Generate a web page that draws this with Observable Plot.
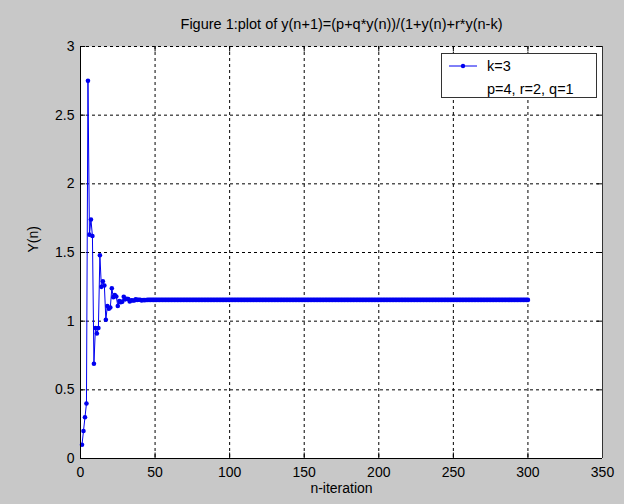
<!DOCTYPE html>
<html><head><meta charset="utf-8">
<script src="https://cdn.jsdelivr.net/npm/d3@7"></script>
<script src="https://cdn.jsdelivr.net/npm/@observablehq/plot@0.6"></script>
<style>body{margin:0;background:#c8c8c8;} svg{display:block}</style>
</head><body><div id="chart"></div>
<script>
const titleText = "Figure 1:plot of y(n+1)=(p+q*y(n))/(1+y(n)+r*y(n-k)";
const xLabel = "n-iteration";
const yLabel = "Y(n)";
const legendLines = ["k=3", "p=4, r=2, q=1"];
const xTicks = [0, 50, 100, 150, 200, 250, 300, 350];
const yTicks = [0, 0.5, 1, 1.5, 2, 2.5, 3];

// y(n), n = 1..300
const transient = [
  0.10, 0.20, 0.30, 0.40, 2.75, 1.63, 1.74, 1.62, 0.69, 0.95, 0.91, 0.95,
  1.48, 1.25, 1.29, 1.26, 1.01, 1.11, 1.09, 1.10, 1.24, 1.175, 1.19, 1.18,
  1.11, 1.146, 1.138, 1.142, 1.178, 1.159, 1.163, 1.161, 1.143, 1.152, 1.150, 1.151,
  1.160, 1.155, 1.156, 1.156, 1.151, 1.154, 1.153, 1.154
];
const steady = [
  1.155,1.155,1.155,1.155,1.155,1.155,1.155,1.155,1.155,1.155,1.155,1.155,1.155,1.155,1.155,1.155,
  1.155,1.155,1.155,1.155,1.155,1.155,1.155,1.155,1.155,1.155,1.155,1.155,1.155,1.155,1.155,1.155,
  1.155,1.155,1.155,1.155,1.155,1.155,1.155,1.155,1.155,1.155,1.155,1.155,1.155,1.155,1.155,1.155,
  1.155,1.155,1.155,1.155,1.155,1.155,1.155,1.155,1.155,1.155,1.155,1.155,1.155,1.155,1.155,1.155,
  1.155,1.155,1.155,1.155,1.155,1.155,1.155,1.155,1.155,1.155,1.155,1.155,1.155,1.155,1.155,1.155,
  1.155,1.155,1.155,1.155,1.155,1.155,1.155,1.155,1.155,1.155,1.155,1.155,1.155,1.155,1.155,1.155,
  1.155,1.155,1.155,1.155,1.155,1.155,1.155,1.155,1.155,1.155,1.155,1.155,1.155,1.155,1.155,1.155,
  1.155,1.155,1.155,1.155,1.155,1.155,1.155,1.155,1.155,1.155,1.155,1.155,1.155,1.155,1.155,1.155,
  1.155,1.155,1.155,1.155,1.155,1.155,1.155,1.155,1.155,1.155,1.155,1.155,1.155,1.155,1.155,1.155,
  1.155,1.155,1.155,1.155,1.155,1.155,1.155,1.155,1.155,1.155,1.155,1.155,1.155,1.155,1.155,1.155,
  1.155,1.155,1.155,1.155,1.155,1.155,1.155,1.155,1.155,1.155,1.155,1.155,1.155,1.155,1.155,1.155,
  1.155,1.155,1.155,1.155,1.155,1.155,1.155,1.155,1.155,1.155,1.155,1.155,1.155,1.155,1.155,1.155,
  1.155,1.155,1.155,1.155,1.155,1.155,1.155,1.155,1.155,1.155,1.155,1.155,1.155,1.155,1.155,1.155,
  1.155,1.155,1.155,1.155,1.155,1.155,1.155,1.155,1.155,1.155,1.155,1.155,1.155,1.155,1.155,1.155,
  1.155,1.155,1.155,1.155,1.155,1.155,1.155,1.155,1.155,1.155,1.155,1.155,1.155,1.155,1.155,1.155,
  1.155,1.155,1.155,1.155,1.155,1.155,1.155,1.155,1.155,1.155,1.155,1.155,1.155,1.155,1.155,1.155
];
const yValues = transient.concat(steady);
const data = yValues.map((y, i) => ({n: i + 1, y}));

const blue = "#0000f0";
const font = "'Liberation Sans', Arial, sans-serif";

const chart = Plot.plot({
  width: 624, height: 504,
  marginLeft: 80, marginRight: 22, marginTop: 46, marginBottom: 46,
  style: {background: "#c8c8c8", fontFamily: font, fontSize: "14px", color: "black"},
  x: {domain: [0, 350], label: null},
  y: {domain: [0, 3], label: null},
  marks: [
    Plot.frame({fill: "white", stroke: "none"}),
    Plot.gridX(xTicks.slice(1, -1), {stroke: "black", strokeOpacity: 1, strokeDasharray: "3,3", strokeWidth: 1}),
    Plot.gridY(yTicks.slice(1, -1), {stroke: "black", strokeOpacity: 1, strokeDasharray: "3,3", strokeWidth: 1}),
    Plot.ruleY([3], {stroke: "black", strokeDasharray: "3,3"}),
    Plot.ruleX(xTicks, {y1: 0, y2: 0.04, stroke: "black"}),
    Plot.ruleX(xTicks, {y1: 2.96, y2: 3, stroke: "black"}),
    Plot.ruleY(yTicks, {x1: 0, x2: 3.5, stroke: "black"}),
    Plot.ruleY(yTicks, {x1: 346.5, x2: 350, stroke: "black"}),
    Plot.line(data, {x: "n", y: "y", stroke: blue, strokeWidth: 1}),
    Plot.dot(data, {x: "n", y: "y", r: 2.3, fill: blue, stroke: "none"}),
    Plot.ruleX([0], {stroke: "black", strokeWidth: 1}),
    Plot.ruleY([0], {stroke: "black", strokeWidth: 1}),
    Plot.ruleX([350], {stroke: "#333", strokeWidth: 1}),
    Plot.axisX(xTicks, {tickSize: 0, tickPadding: 9, tickFormat: d => String(d), fontSize: 14, label: null}),
    Plot.axisY(yTicks, {tickSize: 0, tickPadding: 6, tickFormat: d => String(d), fontSize: 14, label: null}),
    Plot.text([titleText], {frameAnchor: "top", dy: -28, fontSize: 14.5, fill: "black"}),
    Plot.text([xLabel], {frameAnchor: "bottom", dy: 34, fontSize: 14, fill: "black"}),
    Plot.text([yLabel], {frameAnchor: "left", dx: -47, rotate: -90, fontSize: 14, fill: "black"})
  ]
});

// legend box
const svg = d3.select(chart);
const g = svg.append("g").attr("font-family", font).attr("font-size", 14.5).attr("text-anchor", "start");
g.append("rect").attr("x", 441.5).attr("y", 53.5).attr("width", 155).attr("height", 44)
  .attr("fill", "white").attr("stroke", "#333");
g.append("line").attr("x1", 449).attr("x2", 477).attr("y1", 66).attr("y2", 66).attr("stroke", blue);
g.append("circle").attr("cx", 463).attr("cy", 66).attr("r", 2.2).attr("fill", blue);
g.append("text").attr("x", 487).attr("y", 66).attr("dy", "0.35em").text(legendLines[0]);
g.append("text").attr("x", 487).attr("y", 89).attr("dy", "0.35em").text(legendLines[1]);

document.getElementById("chart").appendChild(chart);
</script>
</body></html>
